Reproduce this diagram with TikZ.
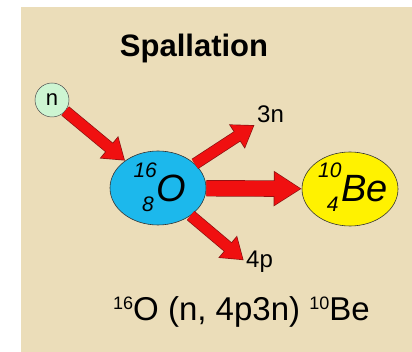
\documentclass[tikz,border=0pt]{standalone}
\usepackage{fontspec}
\setmainfont{Liberation Sans}
\usetikzlibrary{shapes.geometric,arrows.meta}
\definecolor{paper}{HTML}{EBDDB9}
\definecolor{oblue}{HTML}{1CB8EC}
\definecolor{beyel}{HTML}{FFF200}
\definecolor{ngreen}{HTML}{CDF5D2}
\definecolor{arrred}{HTML}{F01010}
\definecolor{arredge}{HTML}{8A1010}
\newcommand\nuc[3]{{\itshape\fontsize{21}{21}\selectfont\rlap{\raisebox{24pt}{#1}}\phantom{#1}\llap{\raisebox{-10pt}{#2}\kern3pt}\fontsize{38}{38}\selectfont #3}}
\begin{document}
\begin{tikzpicture}[x=1pt,y=-1pt,
  nucleus/.style={ellipse, draw=black!80, line width=0.6pt, minimum width=96pt, minimum height=74pt, inner sep=0pt},
  lbl/.style={inner sep=0pt, anchor=base west, font=\fontsize{24}{24}\selectfont},
  thinarrow/.style={line width=10.5pt, draw=arrred, shorten >=1.2pt, -{Triangle[width=25pt,length=19pt]},
    preaction={draw=arredge, line width=11.9pt, shorten >=0pt, -{Triangle[width=27.5pt,length=21pt]}}},
  thinarrowl/.style={line width=10.5pt, draw=arrred, shorten >=4.2pt, -{Triangle[width=25pt,length=19pt]},
    preaction={draw=arredge, line width=11.9pt, shorten >=3pt, -{Triangle[width=27.5pt,length=21pt]}}},
  bigarrow/.style={line width=15pt, draw=arrred, shorten >=1.2pt, -{Triangle[width=31pt,length=26pt]},
    preaction={draw=arredge, line width=16.4pt, shorten >=0pt, -{Triangle[width=33.5pt,length=28pt]}}}
]
\useasboundingbox (0,0) rectangle (412,352);
\fill[paper] (21,7) rectangle (412,352);

\node[anchor=base, inner sep=0pt, font=\bfseries\fontsize{31}{31}\selectfont] (title) at (194,57) {Spallation};

\node[circle, draw=black!70, line width=0.5pt, fill=ngreen, minimum size=34pt, inner sep=0pt, font=\fontsize{22}{22}\selectfont] (n) at (52,100) {n};
\node[nucleus, fill=oblue] (O) at (158,188) {};
\node[nucleus, fill=beyel] (Be) at (350,189) {};
\node[anchor=base, inner sep=0pt] (Otext) at (160,202) {\nuc{16}{8}{O}};
\node[anchor=base, inner sep=0pt] (Betext) at (353,202) {\nuc{10}{4}{Be}};

\node[lbl] (l3n) at (257,123) {3n};
\node[lbl] (l4p) at (246,268) {4p};

\draw[thinarrow] (n) -- (O);
\draw[thinarrowl] (O) -- (l3n.south west);
\draw[thinarrowl] (O) -- (l4p.west);
\draw[bigarrow] (O) -- (Be);

\node[anchor=base west, inner sep=0pt, font=\fontsize{33}{33}\selectfont] (eq) at (113,320)
  {{\fontsize{18}{18}\selectfont\raisebox{10pt}{16}}O (n, 4p3n) {\fontsize{18}{18}\selectfont\raisebox{10pt}{10}}Be};
\end{tikzpicture}
\end{document}
